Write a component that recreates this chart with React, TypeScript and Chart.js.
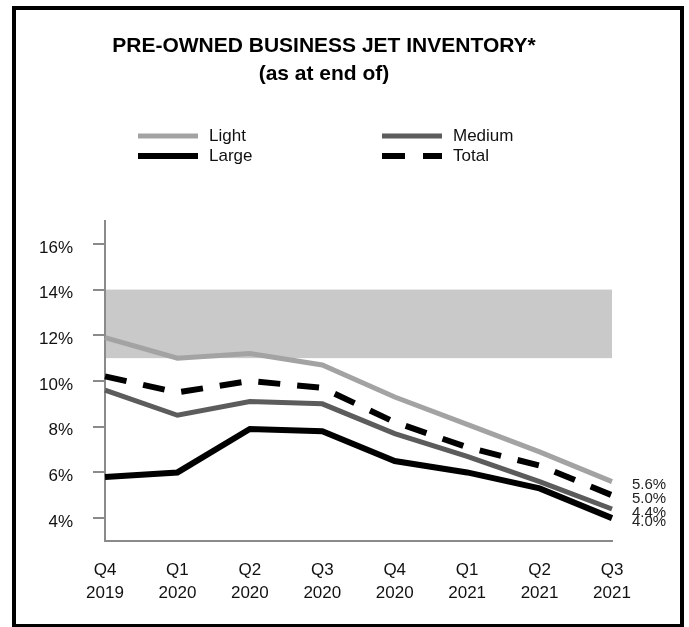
import React, { useEffect, useRef } from 'react';
import { Chart, registerables } from 'chart.js';
Chart.register(...registerables);

// ---- data ----
const quarters = ['Q4', 'Q1', 'Q2', 'Q3', 'Q4', 'Q1', 'Q2', 'Q3'];
const years = ['2019', '2020', '2020', '2020', '2020', '2021', '2021', '2021'];
const light = [11.9, 11.0, 11.2, 10.7, 9.3, 8.1, 6.9, 5.6];
const medium = [9.6, 8.5, 9.1, 9.0, 7.7, 6.7, 5.6, 4.4];
const large = [5.8, 6.0, 7.9, 7.8, 6.5, 6.0, 5.3, 4.0];
const total = [10.2, 9.5, 10.0, 9.7, 8.2, 7.1, 6.3, 5.0];
const yTicks = [4, 6, 8, 10, 12, 14, 16];
const bandRange = [11, 14];
const titleLines = ['PRE-OWNED BUSINESS JET INVENTORY*', '(as at end of)'];

const FONT = '"Liberation Sans", Arial, Helvetica, sans-serif';
const AXIS = '#8a8a8a';
const C_LIGHT = '#a3a3a3';
const C_MEDIUM = '#5c5c5c';
const C_LARGE = '#000000';
const C_TOTAL = '#000000';
const C_BAND = '#c9c9c9';

const legendItems = [
  { label: 'Light', color: C_LIGHT, width: 5, dash: [] as number[], x: 138, y: 136 },
  { label: 'Medium', color: C_MEDIUM, width: 5, dash: [] as number[], x: 382, y: 136 },
  { label: 'Large', color: C_LARGE, width: 6, dash: [] as number[], x: 138, y: 156 },
  { label: 'Total', color: C_TOTAL, width: 6, dash: [23, 18], x: 382, y: 156 },
];

const decorPlugin = {
  id: 'decor',
  beforeDatasetsDraw(chart: any) {
    const { ctx, chartArea, scales } = chart;
    const y = scales.y;
    const top = y.getPixelForValue(bandRange[1]);
    const bot = y.getPixelForValue(bandRange[0]);
    ctx.save();
    ctx.fillStyle = C_BAND;
    ctx.fillRect(chartArea.left + 1, top, chartArea.right - chartArea.left - 1, bot - top);
    ctx.restore();
  },
  afterDraw(chart: any) {
    const { ctx, chartArea, scales } = chart;
    ctx.save();
    // title
    ctx.fillStyle = '#000';
    ctx.textAlign = 'center';
    ctx.textBaseline = 'alphabetic';
    ctx.font = `bold 21px ${FONT}`;
    ctx.fillText(titleLines[0], 324, 52);
    ctx.fillText(titleLines[1], 324, 80);
    // legend
    ctx.font = `17px ${FONT}`;
    ctx.textAlign = 'left';
    ctx.textBaseline = 'middle';
    legendItems.forEach((it) => {
      ctx.beginPath();
      ctx.strokeStyle = it.color;
      ctx.lineWidth = it.width;
      ctx.lineCap = 'butt';
      ctx.setLineDash(it.dash);
      ctx.moveTo(it.x, it.y);
      ctx.lineTo(it.x + 60, it.y);
      ctx.stroke();
      ctx.setLineDash([]);
      ctx.fillStyle = '#111';
      ctx.fillText(it.label, it.x + 71, it.y);
    });
    // end labels
    ctx.font = `15px ${FONT}`;
    ctx.fillStyle = '#222';
    const last = [light, total, medium, large].map((a) => a[a.length - 1]);
    last.forEach((v) => {
      ctx.fillText(v.toFixed(1) + '%', chartArea.right + 20, scales.y.getPixelForValue(v) + 3.5);
    });
    ctx.restore();
  },
};

export default function App() {
  const ref = useRef<HTMLCanvasElement | null>(null);
  useEffect(() => {
    if (!ref.current) return;
    const labels = quarters.map((q, i) => [q, years[i]]);
    const chart = new Chart(ref.current, {
      type: 'line',
      data: {
        labels,
        datasets: [
          { label: 'Light', data: light, borderColor: C_LIGHT, borderWidth: 5, pointRadius: 0, tension: 0, fill: false, order: 4 },
          { label: 'Medium', data: medium, borderColor: C_MEDIUM, borderWidth: 5, pointRadius: 0, tension: 0, fill: false, order: 3 },
          { label: 'Large', data: large, borderColor: C_LARGE, borderWidth: 6, pointRadius: 0, tension: 0, fill: false, order: 2 },
          { label: 'Total', data: total, borderColor: C_TOTAL, borderWidth: 6, borderDash: [22, 17], borderCapStyle: 'butt', pointRadius: 0, tension: 0, fill: false, order: 1 },
        ],
      } as any,
      options: {
        responsive: false,
        animation: false,
        layout: { padding: { left: 0, top: 221, right: 77, bottom: 0 } },
        plugins: {
          legend: { display: false },
          title: { display: false },
          tooltip: { enabled: false },
        },
        scales: {
          x: {
            type: 'category',
            offset: false,
            grid: { display: true, drawOnChartArea: false, drawTicks: false },
            border: { display: true, color: AXIS, width: 2 },
            ticks: {
              color: '#111',
              font: { family: FONT, size: 17, lineHeight: 1.33 },
              padding: 18,
              maxRotation: 0,
              autoSkip: false,
            },
            afterFit: (s: any) => { s.height = 86; },
          },
          y: {
            min: 3,
            max: 17,
            afterBuildTicks: (s: any) => { s.ticks = yTicks.map((v) => ({ value: v })); },
            grid: { display: true, drawOnChartArea: false, drawTicks: true, tickLength: 12, color: AXIS, lineWidth: 2 },
            border: { display: true, color: AXIS, width: 2 },
            ticks: {
              color: '#111',
              font: { family: FONT, size: 17 },
              padding: 20,
              labelOffset: 4,
              callback: (v: any) => v + '%',
            },
            afterFit: (s: any) => { s.width = 105; },
          },
        },
      } as any,
      plugins: [decorPlugin],
    });
    return () => chart.destroy();
  }, []);

  return (
    <div style={{ position: 'fixed', left: 0, top: 0, width: 689, height: 627, background: '#fff', overflow: 'hidden' }}>
      <canvas ref={ref} width={689} height={627} style={{ position: 'absolute', left: 0, top: 0, width: 689, height: 627 }} />
      <div style={{ position: 'absolute', left: 12, top: 6, width: 672, height: 622, border: '4px solid #000', boxSizing: 'border-box', pointerEvents: 'none' }} />
    </div>
  );
}
